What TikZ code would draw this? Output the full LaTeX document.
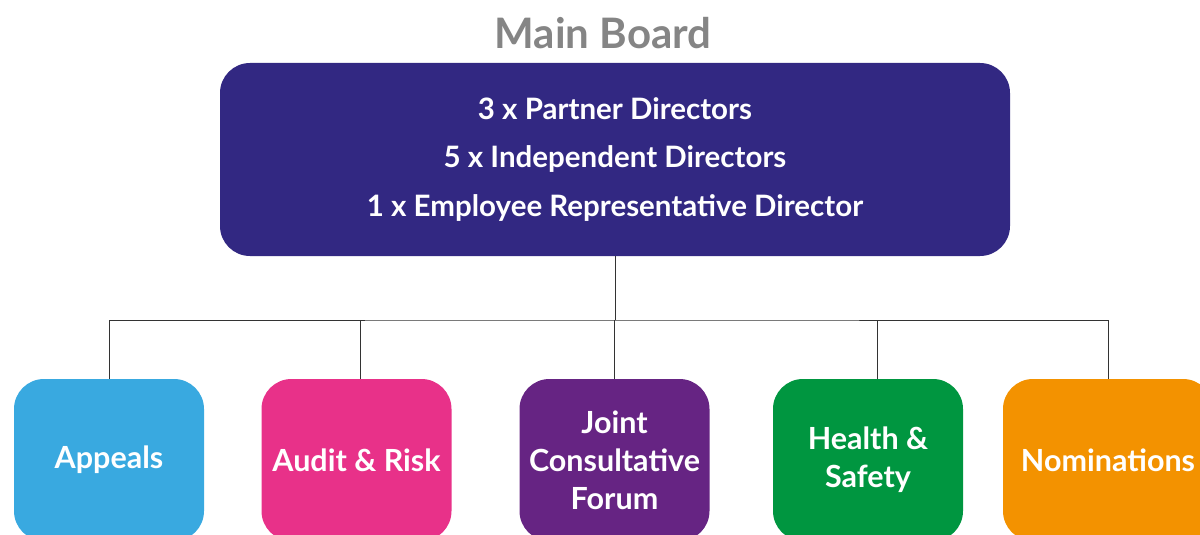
\documentclass[tikz,border=0pt]{standalone}
\usepackage{fontspec}
\setmainfont{Lato}
\definecolor{boardblue}{HTML}{322882}
\definecolor{appealsblue}{HTML}{39A9E0}
\definecolor{auditpink}{HTML}{E83189}
\definecolor{jointpurple}{HTML}{662483}
\definecolor{healthgreen}{HTML}{009640}
\definecolor{nomorange}{HTML}{F39200}
\definecolor{titlegrey}{HTML}{858585}
\tikzset{
    committee/.style={rounded corners=30pt, minimum width=190pt, minimum height=162pt,
        text=white, align=center, font=\bfseries\fontsize{30.5}{38}\selectfont, inner sep=0pt},
    link/.style={draw=black!80, line width=1pt}
}
\begin{document}
\begin{tikzpicture}[x=1pt, y=-1pt]
                    \useasboundingbox (0, 0) rectangle (1200, 535);
                    \clip (0, 0) rectangle (1200, 535);

                    %%title
                    \node (title) at (603, 33){\textcolor{titlegrey}{\bfseries\fontsize{42}{44}\selectfont Main Board}};

                    %%board
                    \node[fill=boardblue, rounded corners=30pt, minimum width=790pt, minimum height=193pt,
                        text=white, align=center, font=\bfseries\fontsize{29.5}{48.5}\selectfont] (board) at (615, 159.5)
                        {3 x Partner Directors\\5 x Independent Directors\\1 x Employee Representative Director};

                    %%committees
                    \node[committee, fill=appealsblue] (appeals) at (109, 460){Appeals};
                    \node[committee, fill=auditpink] (audit) at (356.5, 460){Audit \& Risk};
                    \node[committee, fill=jointpurple] (joint) at (614.5, 460){Joint\\Consultative\\Forum};
                    \node[committee, fill=healthgreen] (health) at (868, 460){Health \&\\Safety};
                    \node[committee, fill=nomorange, minimum width=210pt] (nominations) at (1108, 460){Nominations};

                    %%links
                    \coordinate (hub) at (615, 320);
                    \draw[link] (board.south) -- (hub);
                    \draw[link] (appeals.north) |- (hub) -| (nominations.north);
                    \draw[link] ([xshift=3.5pt]audit.north) -- ++(0, -59);
                    \draw[link] (joint.north) -- ++(0, -59);
                    \draw[link] ([xshift=9pt]health.north) -- ++(0, -59);
                \end{tikzpicture}
\end{document}
